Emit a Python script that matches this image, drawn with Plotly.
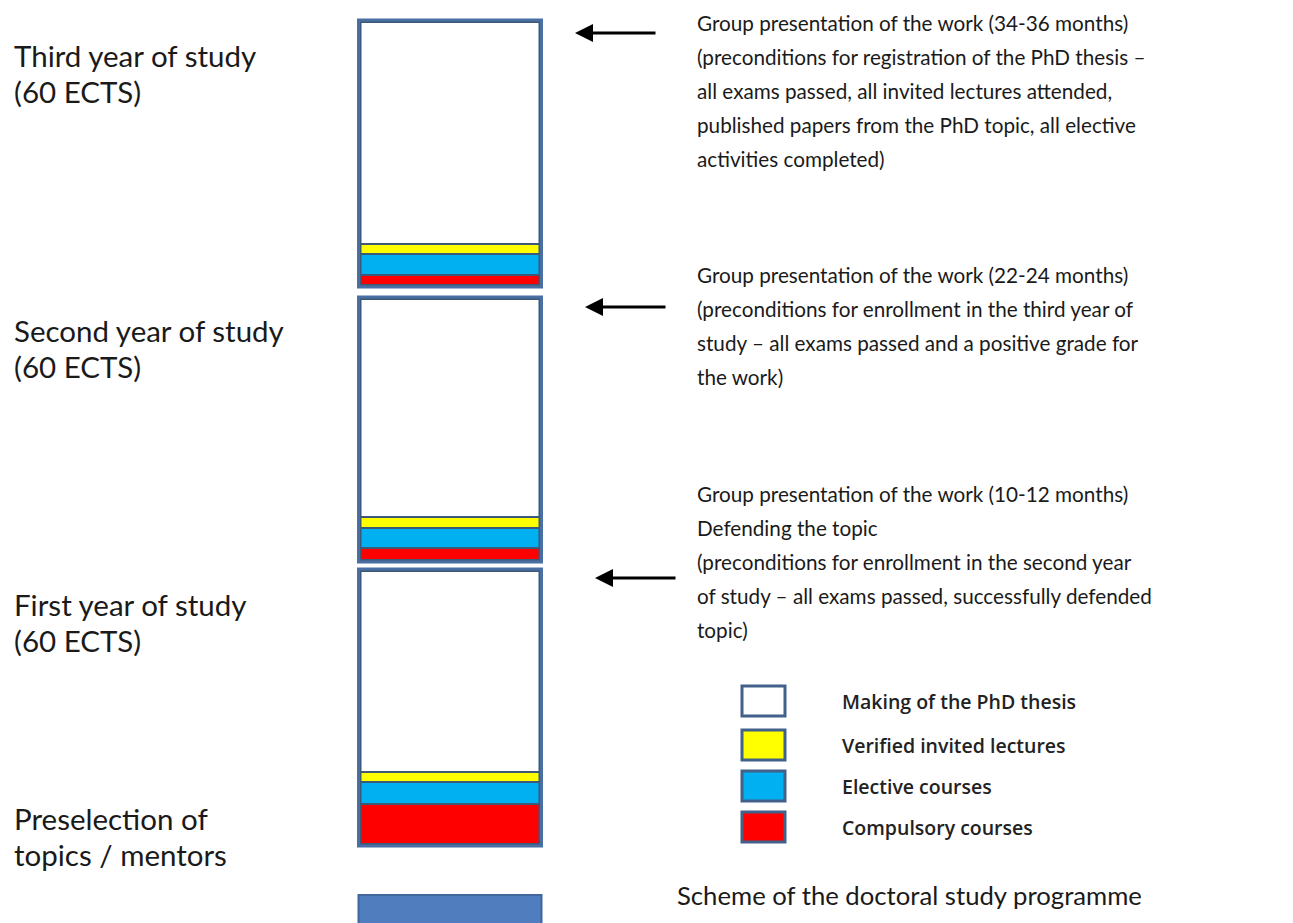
import plotly.graph_objects as go

# ---- data (diagram units, y grows upward; canvas 1293 x 923) ----
years = ["First year of study", "Second year of study", "Third year of study"]
year_base = [77, 361, 636]
year_height = [277, 265, 267]
compulsory = [40, 12, 10]
elective = [22, 20, 21]
invited = [10, 11, 10]
thesis = [201, 218, 222]
presel_base = [-30]
presel_height = [58]

left_labels = [
    ("Third year of study", 868), ("(60 ECTS)", 832),
    ("Second year of study", 593), ("(60 ECTS)", 557),
    ("First year of study", 319), ("(60 ECTS)", 283),
    ("Preselection of", 105), ("topics / mentors", 69),
]
right_blocks = [
    (["Group presentation of the work (34-36 months)",
      "(preconditions for registration of the PhD thesis \u2013",
      "all exams passed, all invited lectures attended,",
      "published papers from the PhD topic, all elective",
      "activities completed)"], 900),
    (["Group presentation of the work (22-24 months)",
      "(preconditions for enrollment in the third year of",
      "study \u2013 all exams passed and a positive grade for",
      "the work)"], 648),
    (["Group presentation of the work (10-12 months)",
      "Defending the topic",
      "(preconditions for enrollment in the second year",
      "of study \u2013 all exams passed, successfully defended",
      "topic)"], 429),
]
arrows = [(575, 657, 890), (585, 667, 616), (595, 677, 345)]
legend_items = ["Making of the PhD thesis", "Verified invited lectures",
                "Elective courses", "Compulsory courses"]
legend_colors = ["#FFFFFF", "#FFFF00", "#00B0F0", "#FF0000"]
legend_y = [222, 178, 137, 96]
title = "Scheme of the doctoral study programme"

X = 450
W = 183
SEG_LINE = "#3E5878"
BOX_LINE = "#4A6FA3"
FONT = "Lato"

fig = go.Figure()

# stacked segments per year
inner0 = [b + 2 for b in year_base]
b_red = inner0
b_blue = [b + c for b, c in zip(b_red, compulsory)]
b_yel = [b + e for b, e in zip(b_blue, elective)]
b_th = [b + i for b, i in zip(b_yel, invited)]

for vals, bases, col, name in [
    (compulsory, b_red, "#FF0000", "Compulsory courses"),
    (elective, b_blue, "#00B0F0", "Elective courses"),
    (invited, b_yel, "#FFFF00", "Verified invited lectures"),
    (thesis, b_th, "#FFFFFF", "Making of the PhD thesis"),
]:
    fig.add_trace(go.Bar(
        x=[X] * len(vals), y=vals, base=bases, width=W - 4,
        marker=dict(color=col, line=dict(color=SEG_LINE, width=2)),
        name=name, showlegend=False, hoverinfo="skip"))

# outer boxes
fig.add_trace(go.Bar(
    x=[X] * 3, y=year_height, base=year_base, width=W,
    marker=dict(color="rgba(0,0,0,0)", line=dict(color=BOX_LINE, width=3)),
    showlegend=False, hoverinfo="skip"))

# preselection box
fig.add_trace(go.Bar(
    x=[X], y=presel_height, base=presel_base, width=W,
    marker=dict(color="#4F7DBD", line=dict(color="#41679C", width=2)),
    showlegend=False, hoverinfo="skip"))

ann = []
for txt, y in left_labels:
    ann.append(dict(x=12, y=y, text=txt, showarrow=False, xanchor="left",
                    yanchor="middle", font=dict(family=FONT, size=29.5, color="#1a1a1a")))
for lines, y0 in right_blocks:
    for i, t in enumerate(lines):
        ann.append(dict(x=695, y=y0 - i * 34, text=t, showarrow=False, xanchor="left",
                        yanchor="middle", font=dict(family=FONT, size=20.7, color="#1a1a1a")))
for head, tail, y in arrows:
    ann.append(dict(x=head, y=y, ax=tail, ay=y, axref="x", ayref="y", xref="x", yref="y",
                    showarrow=True, arrowhead=2, arrowsize=1.2, arrowwidth=3,
                    arrowcolor="#000000", text=""))
for t, y in zip(legend_items, legend_y):
    ann.append(dict(x=840, y=y, text=t, showarrow=False, xanchor="left",
                    yanchor="middle",
                    font=dict(family="Open Sans", size=19.5, weight=600, color="#222222")))
ann.append(dict(x=675, y=28, text=title, showarrow=False, xanchor="left",
                yanchor="middle", font=dict(family=FONT, size=25.7, color="#1a1a1a")))

shapes = []
for c, y in zip(legend_colors, legend_y):
    shapes.append(dict(type="rect", x0=742, x1=785, y0=y - 15, y1=y + 15,
                       line=dict(color="#41608A", width=3), fillcolor=c))

fig.update_layout(
    width=1293, height=923, margin=dict(l=0, r=0, t=0, b=0),
    paper_bgcolor="white", plot_bgcolor="white",
    barmode="overlay",
    xaxis=dict(range=[8, 1301], visible=False, fixedrange=True),
    yaxis=dict(range=[-8, 915], visible=False, fixedrange=True),
    annotations=ann, shapes=shapes, showlegend=False,
)
fig.write_html("out.html")
